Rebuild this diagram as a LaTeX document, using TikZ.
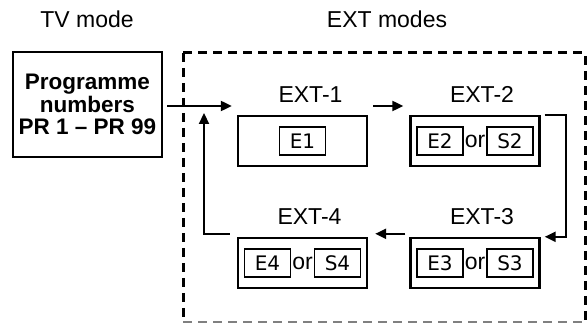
\documentclass[tikz,border=0pt]{standalone}
\usepackage{fontspec}
\setmainfont{Liberation Sans}
\newfontfamily\tagfont{DejaVu Sans}
\usetikzlibrary{arrows.meta, calc, positioning}
\tikzset{%
    pri/.style={line width = 2.4pt},
    pria/.style={line width = 2.2pt, -{Triangle[length=11pt, width=10pt]}},
    frm/.style={line width = 3pt, dash pattern=on 9pt off 6pt},
    frmb/.style={line width = 1.5pt, gray, dash pattern=on 9pt off 6pt},
    mbox/.style={rectangle, draw, line width=2.4pt, minimum width=129pt, minimum height=50pt, inner sep=0pt},
    tag/.style={rectangle, draw, line width=1.8pt, minimum width=46pt, minimum height=28pt, inner sep=0pt, font=\fontsize{20}{21}\tagfont},
    lbl/.style={font=\fontsize{23}{24}\selectfont, inner sep=0pt},
}
\begin{document}
\begin{tikzpicture}[x=1pt, y=-1pt]
    \useasboundingbox (0,0) rectangle (587,323);
    % headings
    \node [lbl, anchor=base] (tv) at (87,28) {TV mode};
    \node [lbl, anchor=base] (ext) at (387,28) {EXT modes};
    % TV mode box
    \node [mbox, minimum width=149pt, minimum height=105pt, align=center, font=\bfseries\fontsize{22.5}{22.5}\selectfont] (prog) at (87.5,104.5) {Programme\\numbers\\PR 1 – PR 99};
    % dashed frame
    \draw [frm] (183,53) -- (585,53) -- (585,322);
    \draw [frm] (183,53) -- (183,322);
    \draw [frmb] (183,322) -- (585,322);
    % EXT boxes
    \node [mbox] (ext1) at (302.5,141) {};
    \node [mbox] (ext2) at (475,141) {};
    \node [mbox] (ext3) at (475,263) {};
    \node [mbox] (ext4) at (302.5,263) {};
    \node [lbl, above=12pt of ext1.north, anchor=base, xshift=8pt] (ext1l) {EXT-1};
    \node [lbl, above=12pt of ext2.north, anchor=base, xshift=7pt] (ext2l) {EXT-2};
    \node [lbl, above=12pt of ext3.north, anchor=base, xshift=7pt] (ext3l) {EXT-3};
    \node [lbl, above=12pt of ext4.north, anchor=base, xshift=7pt] (ext4l) {EXT-4};
    % sources
    \node [tag] (e1) at (ext1) {E1};
    \node [tag, xshift=-35pt] (e2) at (ext2) {E2};
    \node [lbl] (or2) at (ext2) {or};
    \node [tag, xshift=35pt] (s2) at (ext2) {S2};
    \node [tag, xshift=-35pt] (e3) at (ext3) {E3};
    \node [lbl] (or3) at (ext3) {or};
    \node [tag, xshift=35pt] (s3) at (ext3) {S3};
    \node [tag, xshift=-35pt] (e4) at (ext4) {E4};
    \node [lbl] (or4) at (ext4) {or};
    \node [tag, xshift=35pt] (s4) at (ext4) {S4};
    % arrows
    \coordinate (row) at (0,106);
    \coordinate (back) at (204,113);
    \draw [pria] ([xshift=4pt]prog.east |- row) -- ([xshift=-5pt]ext1.west |- row);
    \draw [pria] ([xshift=5pt]ext1.east |- row) -- ([xshift=-6pt]ext2.west |- row);
    \draw [pria] ([xshift=4pt]ext2.north east) -- ++(21,0) |- ([xshift=4pt]ext3.north east);
    \draw [pria] ([xshift=-4pt,yshift=3pt]ext3.north west) -- ([xshift=7pt,yshift=3pt]ext4.north east);
    \draw [pria] ([xshift=-7pt,yshift=3pt]ext4.north west) -| (back);
\end{tikzpicture}
\end{document}
